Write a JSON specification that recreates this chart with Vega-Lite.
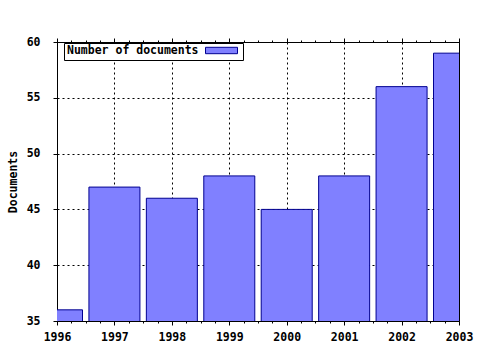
{
  "$schema": "https://vega.github.io/schema/vega-lite/v6.json",
  "autosize": "none",
  "padding": {"left": 57, "top": 42, "right": 21, "bottom": 29},
  "width": 402,
  "height": 279,
  "background": "white",
  "config": {
    "view": {"stroke": "black", "strokeWidth": 1},
    "font": "DejaVu Sans Mono"
  },
  "data": {
    "values": [
      {"year": 1996, "docs": 36, "series": "Number of documents"},
      {"year": 1997, "docs": 47, "series": "Number of documents"},
      {"year": 1998, "docs": 46, "series": "Number of documents"},
      {"year": 1999, "docs": 48, "series": "Number of documents"},
      {"year": 2000, "docs": 45, "series": "Number of documents"},
      {"year": 2001, "docs": 48, "series": "Number of documents"},
      {"year": 2002, "docs": 56, "series": "Number of documents"},
      {"year": 2003, "docs": 59, "series": "Number of documents"}
    ]
  },
  "resolve": {"axis": {"x": "independent", "y": "independent"}},
  "layer": [
    {
      "mark": {"type": "bar", "width": 51, "clip": true, "fill": "#8080ff", "stroke": "#000090", "strokeWidth": 1, "opacity": 1},
      "encoding": {
        "x": {
          "field": "year", "type": "quantitative",
          "scale": {"domain": [1996, 2003], "nice": false, "zero": false, "padding": 0},
          "axis": {
            "orient": "bottom",
            "title": null,
            "values": [1996, 1996.25, 1996.5, 1996.75, 1997, 1997.25, 1997.5, 1997.75, 1998, 1998.25, 1998.5, 1998.75, 1999, 1999.25, 1999.5, 1999.75, 2000, 2000.25, 2000.5, 2000.75, 2001, 2001.25, 2001.5, 2001.75, 2002, 2002.25, 2002.5, 2002.75, 2003],
            "labelExpr": "datum.value % 1 == 0 ? format(datum.value, 'd') : ''",
            "labelFont": "DejaVu Sans Mono",
            "labelFontSize": 11.5,
            "labelFontWeight": "bold",
            "labelColor": "black",
            "labelPadding": 6,
            "labelFlush": false,
            "labelOverlap": false,
            "domain": false,
            "tickColor": "black",
            "tickSize": {"condition": {"test": "datum.value % 1 == 0", "value": 4}, "value": 2},
            "grid": true,
            "gridColor": "black",
            "gridDash": [2, 3],
            "gridOpacity": {"condition": {"test": "datum.value % 1 == 0", "value": 1}, "value": 0}
          }
        },
        "y": {
          "field": "docs", "type": "quantitative",
          "scale": {"domain": [35, 60], "nice": false, "zero": false},
          "axis": {
            "orient": "left",
            "title": "Documents",
            "titleFont": "DejaVu Sans Mono",
            "titleFontSize": 11.5,
            "titleFontWeight": "bold",
            "titleColor": "black",
            "titlePadding": 8,
            "values": [35, 40, 45, 50, 55, 60],
            "labelFont": "DejaVu Sans Mono",
            "labelFontSize": 11.5,
            "labelFontWeight": "bold",
            "labelColor": "black",
            "labelPadding": 13,
            "labelFlush": false,
            "domain": false,
            "tickColor": "black",
            "tickSize": 4,
            "grid": true,
            "gridColor": "black",
            "gridDash": [2, 3]
          }
        },
        "color": {
          "field": "series", "type": "nominal",
          "scale": {"range": ["#8080ff"]},
          "legend": {
            "orient": "none",
            "legendX": 7,
            "legendY": 1,
            "title": "Number of documents",
            "titleOrient": "left",
            "titleFont": "DejaVu Sans Mono",
            "titleFontSize": 11.5,
            "titleFontWeight": "bold",
            "titleColor": "black",
            "titlePadding": 18,
            "titleAnchor": "middle",
            "titleBaseline": "middle",
            "labelExpr": "''",
            "labelFontSize": 1,
            "labelOffset": 13,
            "symbolType": "M-4,-0.8H4V0.8H-4Z",
            "symbolSize": 64,
            "symbolStrokeColor": "#000090",
            "symbolStrokeWidth": 1,
            "symbolOpacity": 1,
            "strokeColor": "black",
            "fillColor": "white",
            "padding": 3
          }
        }
      }
    },
    {
      "mark": {"type": "bar", "width": 51, "clip": true, "opacity": 0},
      "encoding": {
        "x": {
          "field": "year", "type": "quantitative",
          "axis": {
            "orient": "top",
            "title": null,
            "values": [1996, 1996.25, 1996.5, 1996.75, 1997, 1997.25, 1997.5, 1997.75, 1998, 1998.25, 1998.5, 1998.75, 1999, 1999.25, 1999.5, 1999.75, 2000, 2000.25, 2000.5, 2000.75, 2001, 2001.25, 2001.5, 2001.75, 2002, 2002.25, 2002.5, 2002.75, 2003],
            "labels": false,
            "domain": false,
            "grid": false,
            "tickColor": "black",
            "tickSize": {"condition": {"test": "datum.value % 1 == 0", "value": 4}, "value": 2}
          }
        },
        "y": {
          "field": "docs", "type": "quantitative",
          "axis": null
        }
      }
    }
  ]
}
